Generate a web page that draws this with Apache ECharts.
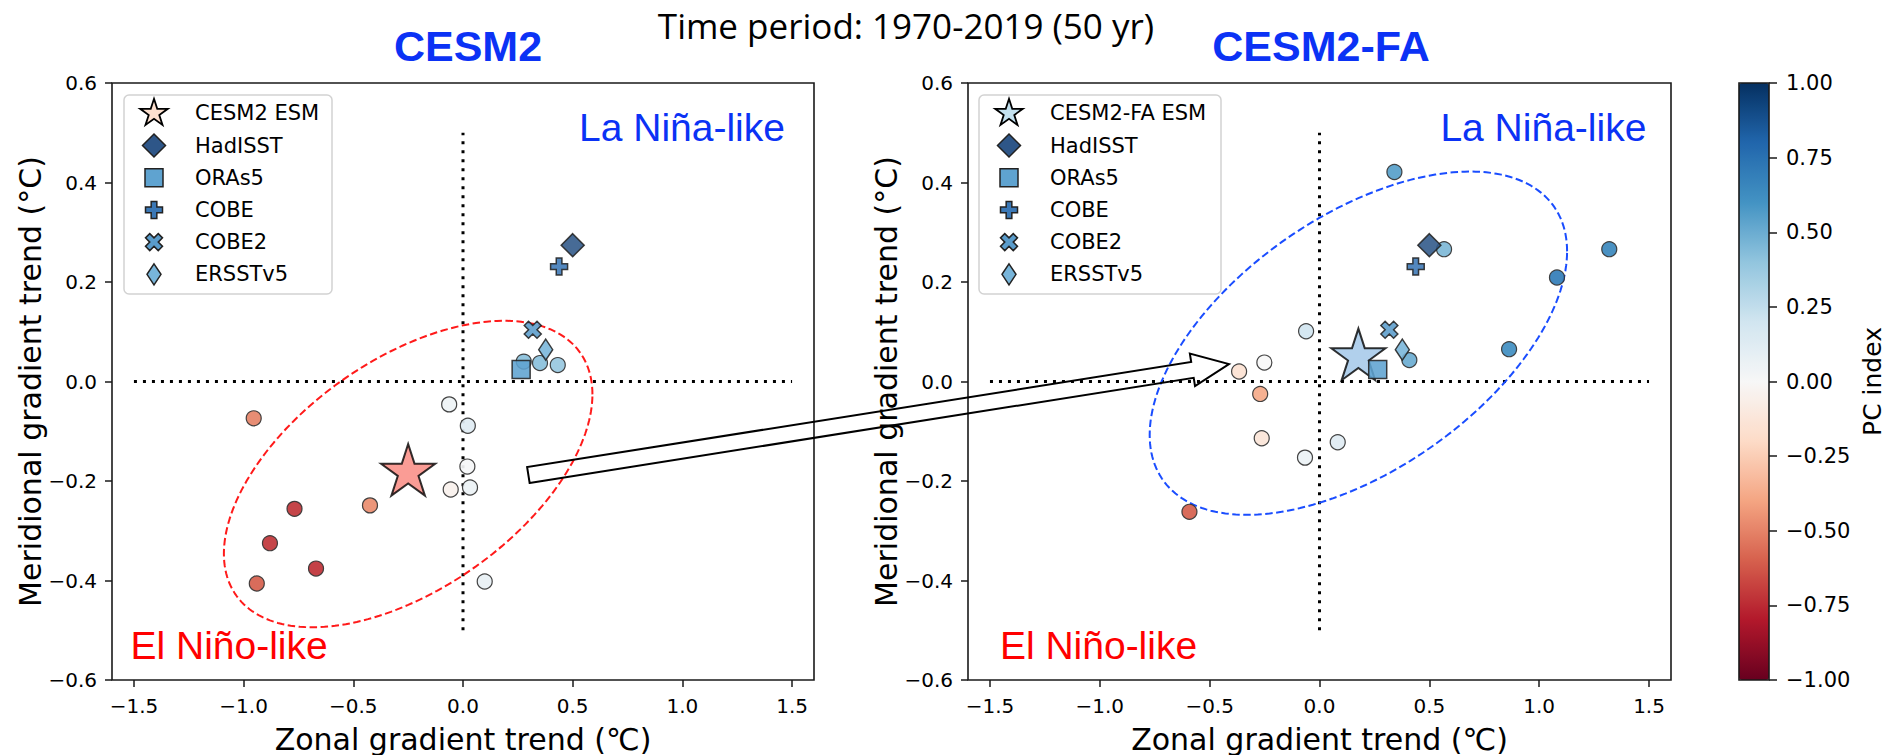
<!DOCTYPE html>
<html><head><meta charset="utf-8">
<script src="https://cdn.jsdelivr.net/npm/echarts@6/dist/echarts.min.js"></script>
<style>html,body{margin:0;padding:0;background:#fff}#chart{width:1893px;height:755px}</style>
</head><body><div id="chart"></div>
<script>
// ================= DATA =================
const xTicks = [-1.5, -1.0, -0.5, 0.0, 0.5, 1.0, 1.5];
const cbTicksInterval = 0.25;

// CESM2 ensemble members
const cesm2Zonal = [-0.954, -0.063, 0.022, 0.020, -0.056, 0.032, -0.768, -0.424, -0.880, -0.670, -0.940, 0.099, 0.277, 0.351, 0.432];
const cesm2Merid = [-0.074, -0.046, -0.089, -0.171, -0.217, -0.213, -0.256, -0.249, -0.325, -0.376, -0.406, -0.402, 0.040, 0.037, 0.033];
const cesm2PC    = [-0.50, 0.05, 0.12, 0.01, -0.04, 0.06, -0.72, -0.47, -0.72, -0.73, -0.60, 0.08, 0.42, 0.42, 0.38];

// CESM2-FA ensemble members
const faZonal = [0.341, 0.567, 1.319, 1.081, -0.061, -0.251, -0.366, 0.863, 0.409, -0.270, -0.263, -0.066, 0.083, -0.592];
const faMerid = [0.421, 0.266, 0.266, 0.209, 0.101, 0.038, 0.020, 0.065, 0.043, -0.025, -0.114, -0.153, -0.122, -0.262];
const faPC    = [0.55, 0.45, 0.65, 0.70, 0.20, 0.00, -0.15, 0.62, 0.50, -0.38, -0.13, 0.06, 0.12, -0.60];

// ensemble means (ESM)
const cesm2Esm = [-0.25, -0.183];
const faEsm = [0.177, 0.049];

// observations (same in both panels)
const obsNames = ['HadISST', 'ORAs5', 'COBE', 'COBE2', 'ERSSTv5'];
const obsZonal = [0.500, 0.265, 0.438, 0.318, 0.377];
const obsMerid = [0.274, 0.024, 0.231, 0.104, 0.064];

// reference lines
const zeroH = [[-1.5, 0], [1.5, 0]];
const zeroV = [[0, -0.5], [0, 0.5]];

// ellipse outlines (centre, half-extent in x / y, x-y correlation)
const ellipseCesm2 = {cx: -0.25, cy: -0.186, W: 0.84, H: 0.308, rho: 0.52};
const ellipseFa = {cx: 0.177, cy: 0.077, W: 0.95, H: 0.345, rho: 0.535};

// arrow: tail in left panel, tip in right panel (data coords)
const arrowTail = [0.298, -0.188];
const arrowTip = [-0.412, 0.035];

// quadrant labels: [x, y]
const laNinaPos = [[1.47, 0.51], [1.49, 0.51]];
const elNinoPos = [[-1.518, -0.53], [-1.457, -0.53]];

// ================= STYLE =================
const rdbu = ['#67001f','#b2182b','#d6604d','#f4a582','#fddbc7','#f7f7f7','#d1e5f0','#92c5de','#4393c3','#2166ac','#053061'];
const FONT = 'DejaVu Sans';
const ARIAL = 'Liberation Sans';
const BLUE = '#0b32f5';
const G = [{left: 112, top: 83, width: 702, height: 597}, {left: 968, top: 83, width: 703, height: 597}];
const CB = {left: 1739, top: 83, width: 30, height: 597};

function starPts() {
  const pts = [];
  for (let k = 0; k < 10; k++) {
    const a = k * Math.PI / 5, r = (k % 2 === 0) ? 1 : 0.381966;
    pts.push([r * Math.sin(a), -r * Math.cos(a)]);
  }
  return pts;
}
const SHAPES = {
  star: starPts(),
  diamond: [[0, -1], [1, 0], [0, 1], [-1, 0]],
  plus: [[-1, -3], [-1, -1], [-3, -1], [-3, 1], [-1, 1], [-1, 3], [1, 3], [1, 1], [3, 1], [3, -1], [1, -1], [1, -3]],
  xfill: [[-1, -2], [0, -1], [1, -2], [2, -1], [1, 0], [2, 1], [1, 2], [0, 1], [-1, 2], [-2, 1], [-1, 0], [-2, -1]],
  square: [[-1, -1], [1, -1], [1, 1], [-1, 1]]
};
function toPath(pts) {
  return 'path://M' + pts.map(p => p[0].toFixed(4) + ',' + p[1].toFixed(4)).join(' L') + ' Z';
}
function fitPts(pts, cx, cy, w, h) {
  const xs = pts.map(p => p[0]), ys = pts.map(p => p[1]);
  const x0 = Math.min(...xs), x1 = Math.max(...xs), y0 = Math.min(...ys), y1 = Math.max(...ys);
  return pts.map(p => [cx - w / 2 + (p[0] - x0) / (x1 - x0) * w, cy - h / 2 + (p[1] - y0) / (y1 - y0) * h]);
}

const obsStyle = {
  HadISST: {shape: 'diamond', size: [23, 23], color: '#2e5688'},
  ORAs5:   {shape: 'square',  size: [18, 18], color: '#5fa3d0'},
  COBE:    {shape: 'plus',    size: [17, 17], color: '#3b78b6'},
  COBE2:   {shape: 'xfill',   size: [17, 17], color: '#5a9ccb'},
  ERSSTv5: {shape: 'diamond', size: [14, 21], color: '#78b5da'}
};
const esmStyle = [
  {name: 'CESM2 ESM', color: '#f9837a', legendColor: '#fde0cf'},
  {name: 'CESM2-FA ESM', color: '#9ec4e7', legendColor: '#c3e1ef'}
];

function fmt(v, d) {
  let s = (Math.abs(v) < 1e-9 ? 0 : v).toFixed(d);
  return s.replace('-', '\u2212');
}
function ellipsePts(e) {
  const pts = [], phi = Math.acos(e.rho);
  for (let i = 0; i <= 200; i++) {
    const t = i / 200 * 2 * Math.PI;
    pts.push([e.cx + e.W * Math.cos(t), e.cy + e.H * Math.cos(t - phi)]);
  }
  return pts;
}

// ================= OPTION =================
const grids = [
  Object.assign({show: true, borderColor: '#1a1a1a', borderWidth: 1.6, backgroundColor: 'transparent', outerBoundsMode: 'none'}, G[0]),
  Object.assign({show: true, borderColor: '#1a1a1a', borderWidth: 1.6, backgroundColor: 'transparent', outerBoundsMode: 'none'}, G[1]),
  Object.assign({show: false, outerBoundsMode: 'none'}, CB)
];

function xAxisFor(i) {
  return {
    gridIndex: i, type: 'value', min: -1.6, max: 1.6, position: 'bottom',
    axisLine: {show: false, onZero: false},
    axisTick: {show: true, customValues: xTicks, length: 7, lineStyle: {color: '#1a1a1a', width: 1.5}},
    axisLabel: {show: true, customValues: xTicks, formatter: v => fmt(v, 1), fontSize: 20, fontFamily: FONT, color: '#000', margin: 16},
    splitLine: {show: false},
    name: 'Zonal gradient trend (\u2103)', nameLocation: 'middle', nameGap: 44, nameMoveOverlap: false,
    nameTextStyle: {fontSize: 30, fontFamily: FONT, color: '#000'}
  };
}
function yAxisFor(i) {
  return {
    gridIndex: i, type: 'value', min: -0.6, max: 0.6, interval: 0.2, position: 'left',
    axisLine: {show: false, onZero: false},
    axisTick: {show: true, length: 7, lineStyle: {color: '#1a1a1a', width: 1.5}},
    axisLabel: {formatter: v => fmt(v, 1), fontSize: 20, fontFamily: FONT, color: '#000', margin: 15},
    splitLine: {show: false},
    name: 'Meridional gradient trend (\u00b0C)', nameLocation: 'middle', nameGap: 67, nameRotate: 90, nameMoveOverlap: false,
    nameTextStyle: {fontSize: 30, fontFamily: FONT, color: '#000'}
  };
}

const series = [];
const memberIdx = [];
function addPanel(p, zon, mer, pc, esm, ell, ellColor) {
  series.push({type: 'line', xAxisIndex: p, yAxisIndex: p, data: zeroH, symbol: 'none', silent: true,
    lineStyle: {color: '#000', width: 3, type: [3, 6], cap: 'butt'}, z: 2});
  series.push({type: 'line', xAxisIndex: p, yAxisIndex: p, data: zeroV, symbol: 'none', silent: true,
    lineStyle: {color: '#000', width: 3, type: [3, 6], cap: 'butt'}, z: 2});
  series.push({type: 'line', xAxisIndex: p, yAxisIndex: p, data: ellipsePts(ell), symbol: 'none', silent: true, smooth: false,
    lineStyle: {color: ellColor, width: 2, type: [7.5, 3.5]}, z: 2});
  memberIdx.push(series.length);
  series.push({type: 'scatter', name: 'members' + p, xAxisIndex: p, yAxisIndex: p,
    data: zon.map((x, i) => [x, mer[i], pc[i]]), symbol: 'circle', symbolSize: 15,
    itemStyle: {borderColor: '#333', borderWidth: 1.2, opacity: 0.92}, z: 3});
  series.push({type: 'scatter', name: esmStyle[p].name, xAxisIndex: p, yAxisIndex: p,
    data: [esm], symbol: toPath(SHAPES.star), symbolSize: [54.2, 51.6], symbolOffset: [0, -2.7],
    itemStyle: {color: esmStyle[p].color, borderColor: '#000', borderWidth: 2}, z: 4});
  obsNames.forEach((n, i) => {
    const st = obsStyle[n];
    series.push({type: 'scatter', name: n, xAxisIndex: p, yAxisIndex: p,
      data: [[obsZonal[i], obsMerid[i]]], symbol: st.shape === 'square' ? 'rect' : toPath(SHAPES[st.shape]), symbolSize: st.size,
      itemStyle: {color: st.color, borderColor: '#222', borderWidth: 1.5, opacity: 0.88}, z: 5});
  });
  const lbl = {show: true, distance: 0, fontSize: 39, fontFamily: ARIAL, opacity: 1, textBorderWidth: 0};
  series.push({type: 'scatter', xAxisIndex: p, yAxisIndex: p, silent: true, symbolSize: 1,
    itemStyle: {color: 'rgba(0,0,0,0)'}, z: 6,
    data: [
      {value: laNinaPos[p], label: Object.assign({position: 'left', formatter: 'La Niña-like', color: BLUE}, lbl)},
      {value: elNinoPos[p], label: Object.assign({position: 'right', formatter: 'El Niño-like', color: '#ff0000'}, lbl)}
    ]});
}
addPanel(0, cesm2Zonal, cesm2Merid, cesm2PC, cesm2Esm, ellipseCesm2, '#ff1a1a');
addPanel(1, faZonal, faMerid, faPC, faEsm, ellipseFa, '#1a4dff');
series.push({type: 'scatter', xAxisIndex: 2, yAxisIndex: 2, data: [], silent: true});

const option = {
  animation: false,
  backgroundColor: '#fff',
  title: [
    {text: 'Time period: 1970-2019 (50 yr)', left: 906, top: 8, textAlign: 'center', padding: 0,
      textStyle: {fontFamily: 'Open Sans', fontSize: 35, fontWeight: 'normal', color: '#000'}},
    {text: 'CESM2', left: 468, top: 24, textAlign: 'center', padding: 0,
      textStyle: {fontFamily: ARIAL, fontSize: 43, fontWeight: 'bold', color: BLUE}},
    {text: 'CESM2-FA', left: 1321, top: 24, textAlign: 'center', padding: 0,
      textStyle: {fontFamily: ARIAL, fontSize: 43, fontWeight: 'bold', color: BLUE}}
  ],
  grid: grids,
  xAxis: [xAxisFor(0), xAxisFor(1), {gridIndex: 2, type: 'value', min: 0, max: 1, show: false}],
  yAxis: [yAxisFor(0), yAxisFor(1), {
    gridIndex: 2, type: 'value', position: 'right', min: -1, max: 1, interval: cbTicksInterval,
    axisLine: {show: false, onZero: false},
    axisTick: {show: true, length: 8, lineStyle: {color: '#1a1a1a', width: 1.5}},
    axisLabel: {formatter: v => fmt(v, 2), fontSize: 21, fontFamily: FONT, color: '#000', margin: 17},
    splitLine: {show: false},
    name: 'PC index', nameLocation: 'middle', nameRotate: 90, nameGap: 91, nameMoveOverlap: false,
    nameTextStyle: {fontSize: 25, fontFamily: FONT, color: '#000'}
  }],
  visualMap: {
    type: 'continuous', min: -1, max: 1, dimension: 2, seriesIndex: memberIdx,
    inRange: {color: rdbu}, orient: 'vertical', left: CB.left, top: CB.top,
    itemWidth: CB.width, itemHeight: CB.height, calculable: false, padding: 0, text: null, hoverLink: false
  },
  series: series
};

const chart = echarts.init(document.getElementById('chart'), null, {renderer: 'svg', width: 1893, height: 755});
chart.setOption(option);

// ================= LEGENDS + ARROW (graphic) =================
function legendEls(box, esm) {
  const els = [{type: 'rect', shape: {x: box.x, y: box.y, width: box.w, height: box.h, r: 5},
    style: {fill: 'rgba(255,255,255,0.85)', stroke: '#d2d2d2', lineWidth: 1.5}, z: 50, silent: true}];
  const items = [{name: esm.name, shape: 'star', size: [27.6, 26.2], color: esm.legendColor, border: '#000', bw: 1.8, off: -1.4}]
    .concat(obsNames.map(n => ({name: n, shape: obsStyle[n].shape, size: obsStyle[n].size, color: obsStyle[n].color, border: '#222', bw: 1.5, off: 0})));
  items.forEach((it, i) => {
    const cy = box.y + 18.3 + i * 32.2, cx = box.x + 30;
    const pts = fitPts(SHAPES[it.shape], cx, cy + it.off, it.size[0], it.size[1]);
    els.push({type: 'polygon', shape: {points: pts}, silent: true,
      style: {fill: it.color, stroke: it.border, lineWidth: it.bw}, z: 51});
    els.push({type: 'text', x: box.x + 71, y: cy, z: 51, silent: true,
      style: {text: it.name, fontSize: 21, fontFamily: FONT, fill: '#000', align: 'left', verticalAlign: 'middle'}});
  });
  return els;
}

const A = chart.convertToPixel({gridIndex: 0}, arrowTail);
const B = chart.convertToPixel({gridIndex: 1}, arrowTip);
const dx = B[0] - A[0], dy = B[1] - A[1], L = Math.hypot(dx, dy);
const ux = dx / L, uy = dy / L, vx = -uy, vy = ux;
const hw = 8, hh = 16.5, hl = 37;
const bx = B[0] - ux * hl, by = B[1] - uy * hl;
const arrowPts = [
  [A[0] + vx * hw, A[1] + vy * hw], [bx + vx * hw, by + vy * hw], [bx + vx * hh, by + vy * hh],
  [B[0], B[1]],
  [bx - vx * hh, by - vy * hh], [bx - vx * hw, by - vy * hw], [A[0] - vx * hw, A[1] - vy * hw]
];

const graphicEls = []
  .concat(legendEls({x: 124, y: 95, w: 208, h: 199}, esmStyle[0]))
  .concat(legendEls({x: 979, y: 95, w: 242, h: 199}, esmStyle[1]))
  .concat([
    {type: 'rect', shape: {x: CB.left, y: CB.top, width: CB.width, height: CB.height},
      style: {fill: 'none', stroke: '#1a1a1a', lineWidth: 1.6}, z: 60, silent: true},
    {type: 'polygon', shape: {points: arrowPts}, style: {fill: 'none', stroke: '#000', lineWidth: 2, lineJoin: 'miter'}, z: 70, silent: true}
  ]);
chart.setOption({graphic: {elements: graphicEls}});
</script>
</body></html>
